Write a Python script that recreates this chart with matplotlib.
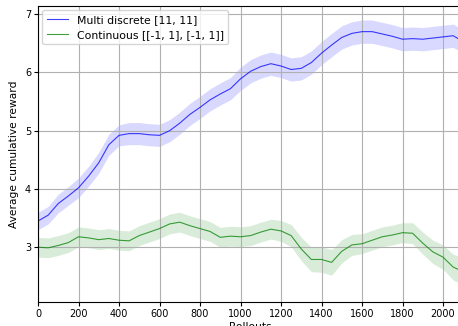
import numpy as np
import matplotlib.pyplot as plt

rollouts = [0, 50, 100, 150, 200, 250, 300, 350, 400, 450, 500, 550, 600, 650, 700,
            750, 800, 850, 900, 950, 1000, 1050, 1100, 1150, 1200, 1250, 1300, 1350,
            1400, 1450, 1500, 1550, 1600, 1650, 1700, 1750, 1800, 1850, 1900, 1950,
            2000, 2050, 2075]

multi_mean = [3.45, 3.55, 3.75, 3.88, 4.02, 4.22, 4.45, 4.76, 4.92, 4.95, 4.95, 4.93,
              4.92, 5.00, 5.13, 5.28, 5.40, 5.53, 5.63, 5.72, 5.89, 6.02, 6.10, 6.15,
              6.11, 6.05, 6.07, 6.17, 6.33, 6.47, 6.60, 6.67, 6.70, 6.70, 6.66, 6.62,
              6.57, 6.58, 6.57, 6.59, 6.61, 6.63, 6.58]
multi_std = [0.15, 0.15, 0.16, 0.16, 0.17, 0.17, 0.18, 0.18, 0.18, 0.19, 0.19, 0.19,
             0.19, 0.19, 0.19, 0.19, 0.19, 0.19, 0.19, 0.19, 0.2, 0.2, 0.2, 0.2,
             0.2, 0.2, 0.2, 0.2, 0.2, 0.2, 0.2, 0.2, 0.2, 0.2, 0.2, 0.2,
             0.2, 0.2, 0.2, 0.2, 0.2, 0.2, 0.2]

cont_mean = [3.00, 2.99, 3.03, 3.08, 3.18, 3.16, 3.13, 3.15, 3.12, 3.11, 3.20, 3.26,
             3.32, 3.40, 3.43, 3.37, 3.32, 3.27, 3.17, 3.19, 3.18, 3.20, 3.26, 3.31,
             3.28, 3.20, 2.97, 2.79, 2.79, 2.74, 2.93, 3.04, 3.06, 3.12, 3.18, 3.21,
             3.25, 3.24, 3.07, 2.92, 2.83, 2.66, 2.62]
cont_std = [0.17, 0.17, 0.17, 0.17, 0.17, 0.17, 0.17, 0.17, 0.17, 0.17, 0.17, 0.17,
            0.17, 0.17, 0.17, 0.17, 0.17, 0.17, 0.17, 0.17, 0.17, 0.17, 0.17, 0.17,
            0.18, 0.19, 0.2, 0.21, 0.22, 0.22, 0.2, 0.18, 0.17, 0.17, 0.17, 0.17,
            0.17, 0.18, 0.19, 0.2, 0.21, 0.22, 0.23]

labels = ['Multi discrete [11, 11]', 'Continuous [[-1, 1], [-1, 1]]']

plt.rcParams['font.size'] = 7
fig = plt.figure(figsize=(4.58, 3.26), dpi=100)
ax = fig.add_axes([0.083, 0.0736, 0.9285, 0.908])

x = np.array(rollouts)
for mean, std, col, lab in [(multi_mean, multi_std, 'b', labels[0]),
                            (cont_mean, cont_std, 'g', labels[1])]:
    mean = np.array(mean)
    std = np.array(std)
    ax.plot(x, mean, color=col, lw=0.8, alpha=0.75, label=lab)
    ax.fill_between(x, mean - std, mean + std, color=col, alpha=0.15, lw=0)

ax.set_xlim(0, 2100)
ax.set_ylim(2.06, 7.14)
ax.set_xticks(range(0, 2001, 200))
ax.set_yticks([3, 4, 5, 6, 7])
ax.grid(True, color='#b0b0b0', lw=0.8)
ax.tick_params(length=3, width=0.8, pad=2)
ax.set_xlabel('Rollouts', fontsize=7.7, labelpad=2)
ax.set_ylabel('Average cumulative reward', fontsize=7.7, labelpad=4)
ax.legend(loc='upper left', fontsize=7.8, framealpha=0.8, borderaxespad=0.4)

fig.savefig('out.png', dpi=100)
